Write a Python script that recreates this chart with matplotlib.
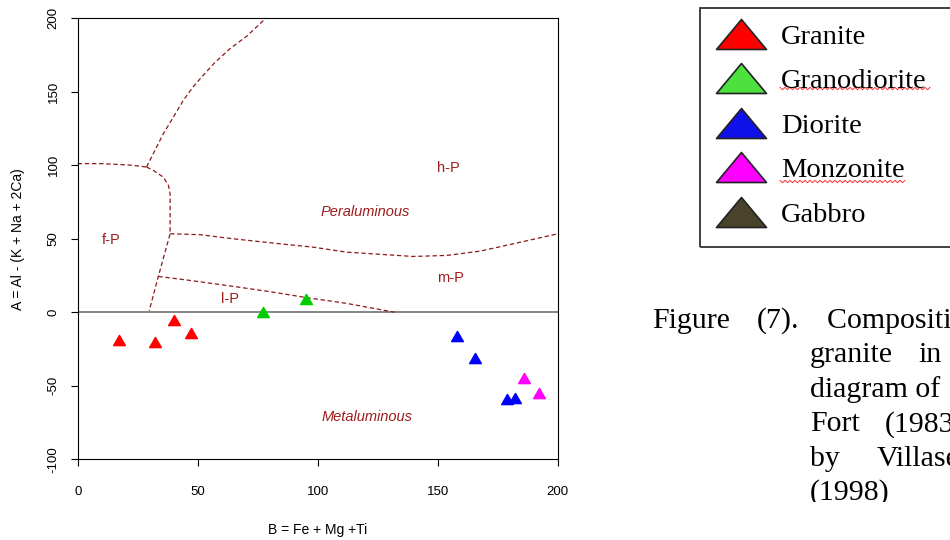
import matplotlib
matplotlib.use("Agg")
import matplotlib.pyplot as plt
from matplotlib.path import Path
from matplotlib.lines import Line2D
from matplotlib.patches import Rectangle
from matplotlib.transforms import Bbox, TransformedBbox

plt.rcParams["axes.unicode_minus"] = False

W, H = 950, 540

# sample groups: B = Fe + Mg + Ti, A = Al - (K + Na + 2Ca)
granite_b = [17, 32, 40, 47]
granite_a = [-19, -20, -5, -14]
granodiorite_b = [77, 95]
granodiorite_a = [0, 9]
diorite_b = [158, 165.5, 179, 182]
diorite_a = [-16, -31, -59, -58]
monzonite_b = [186, 192]
monzonite_a = [-45, -55]

# field boundaries (Villaseca et al., 1998)
fp_top_b = [0, 10, 22, 28.7]
fp_top_a = [101, 101, 100, 98.7]
hp_upper_b = [28.7, 31.5, 35.7, 39.9, 44, 48, 52, 57, 63.5, 70.4, 78.5]
hp_upper_a = [98.7, 107.8, 121.4, 132.7, 144, 153, 160.5, 169.5, 179.2, 187.6, 200]
fp_right_b = [28.7, 31.5, 35.7, 37.8, 38.5, 38.5, 33.6, 29.8]
fp_right_a = [98.7, 96.4, 91.8, 86.2, 80.5, 53.3, 24.3, 1]
hp_mp_b = [38.5, 51, 64.8, 84.3, 98.2, 112.1, 139.8, 153.8, 167.6, 181.5, 200]
hp_mp_a = [53.3, 52.7, 49.9, 46.5, 44.2, 40.8, 37.9, 38.6, 41.5, 46.5, 53.3]
lp_mp_b = [33.6, 45, 65, 80, 95, 112, 132]
lp_mp_a = [24.3, 22, 17.5, 14, 10, 6, 0]

field_labels = ["h-P", "m-P", "l-P", "f-P"]
field_b = [154.5, 155.5, 63.5, 14]
field_a = [98, 23, 9, 49]
domain_labels = ["Peraluminous", "Metaluminous"]
domain_b = [120, 120.5]
domain_a = [68, -71]

legend_names = ["Granite", "Granodiorite", "Diorite", "Monzonite", "Gabbro"]
legend_colors = ["#ff0000", "#4ee03c", "#1010e8", "#ff00ff", "#4a432c"]

sans = "Liberation Sans"
serif = "Liberation Serif"
line_col = "#8b1a1a"
text_col = "#9e1c1c"


def px(x, y):
    # pixel position (from top-left) -> figure fraction
    return x / W, 1 - y / H


# equilateral triangle like R's pch 17
tri = Path([(0, 0.433), (-0.5, -0.433), (0.5, -0.433), (0, 0.433)],
           [Path.MOVETO, Path.LINETO, Path.LINETO, Path.CLOSEPOLY])
flat_tri = Path([(0, 0.3), (-0.5, -0.3), (0.5, -0.3), (0, 0.3)],
                [Path.MOVETO, Path.LINETO, Path.LINETO, Path.CLOSEPOLY])

fig = plt.figure(figsize=(W / 100, H / 100), dpi=100)
ax = fig.add_axes([77.7 / W, 1 - 459.3 / H, 480 / W, 441.3 / H])

for bx, ay in [(fp_top_b, fp_top_a), (hp_upper_b, hp_upper_a),
               (fp_right_b, fp_right_a), (hp_mp_b, hp_mp_a), (lp_mp_b, lp_mp_a)]:
    ax.plot(bx, ay, color=line_col, lw=0.9, dashes=(3.5, 2.2), clip_on=False)

ax.axhline(0, color="#707070", lw=1.2, zorder=1)

for bx, ay, c in [(granite_b, granite_a, "#ff0000"),
                  (granodiorite_b, granodiorite_a, "#00cd00"),
                  (diorite_b, diorite_a, "#0000ff"),
                  (monzonite_b, monzonite_a, "#ff00ff")]:
    ax.plot(bx, ay, ls="none", marker=tri, ms=8.5, color=c, mec=c, zorder=3)

for lab, bx, ay in zip(field_labels, field_b, field_a):
    ax.text(bx, ay, lab, color=text_col, fontsize=10.5, family=sans,
            ha="center", va="center")
for lab, bx, ay in zip(domain_labels, domain_b, domain_a):
    ax.text(bx, ay, lab, color=text_col, fontsize=10.5, family=sans,
            style="italic", ha="center", va="center")

ax.set_xlim(0, 200)
ax.set_ylim(-100, 200)
ax.set_xticks([0, 50, 100, 150, 200])
ax.set_yticks([-100, -50, 0, 50, 100, 150, 200])
ax.tick_params(direction="out", length=5, width=0.8, labelsize=9.5)
ax.tick_params(axis="x", pad=14)
ax.tick_params(axis="y", pad=8)
for t in ax.get_xticklabels() + ax.get_yticklabels():
    t.set_family(sans)
for t in ax.get_yticklabels():
    t.set_rotation(90)
    t.set_va("center")
for s in ax.spines.values():
    s.set_linewidth(0.8)

ax.set_xlabel("B = Fe + Mg +Ti", family=sans, fontsize=10)
ax.set_ylabel("A = Al - (K + Na + 2Ca)", family=sans, fontsize=10)
ax.xaxis.set_label_coords(0.5, -0.144)
ax.yaxis.set_label_coords(-0.11, 0.5)

# legend panel
fig.patches.append(Rectangle(px(699.5, 247), 300 / W, 239 / H, transform=fig.transFigure,
                             fill=False, edgecolor="#333333", lw=1.3))
handles = [Line2D([], [], ls="none", marker=flat_tri, ms=36, mfc=c, mec="#222222", mew=1.2)
           for c in legend_colors]
leg = fig.legend(handles, legend_names, loc="upper left", bbox_to_anchor=px(715.5, 24),
                 frameon=False, prop={"family": serif, "size": 20.5},
                 labelspacing=0.65, handletextpad=0.5, handlelength=1.8,
                 borderpad=0.0, borderaxespad=0)

# red spell-check squiggles under two names
for x0, x1, yy in [(780, 930, 88.5), (780, 905, 181.5)]:
    xs, ys = [], []
    x = x0
    k = 0
    while x <= x1:
        xs.append(x / W)
        ys.append(1 - (yy + (1.2 if k % 2 else -1.2)) / H)
        x += 2.5
        k += 1
    fig.add_artist(Line2D(xs, ys, transform=fig.transFigure, color="#ff3030", lw=0.7))

# caption
cap_words = [
    [("Figure", 651.7), ("(7).", 756.7), ("Composition of", 826.7)],
    [("granite", 810), ("in", 918.3)],
    [("diagram of", 810)],
    [("Fort", 810), ("(1983)", 885)],
    [("by", 810), ("Villaseca", 877)],
    [("(1998)", 810)],
]
clip = TransformedBbox(Bbox([[0, 1 - 501.5 / H], [1, 1]]), fig.transFigure)
for i, row in enumerate(cap_words):
    base = 328 + 34.4 * i
    for word, x in row:
        t = fig.text(*px(x, base), word, family=serif, fontsize=21.5, va="baseline")
        t.set_clip_box(clip)
        t.set_clip_on(True)

fig.savefig("out.png", dpi=100)
